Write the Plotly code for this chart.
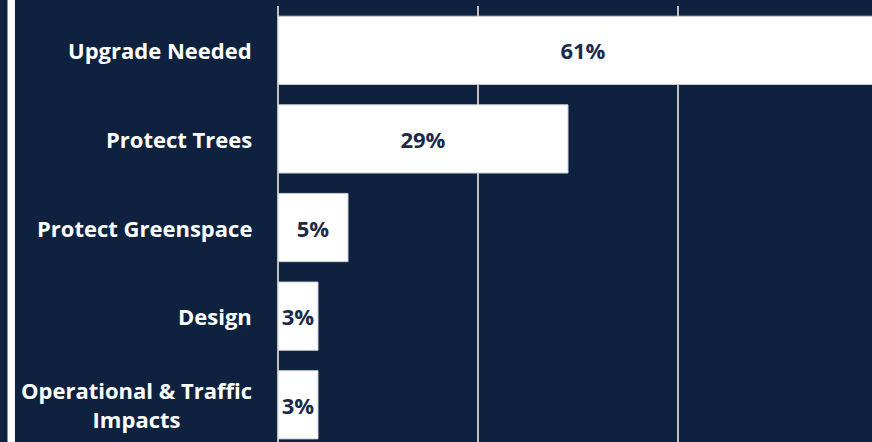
import plotly.graph_objects as go

categories = ["Upgrade Needed", "Protect Trees", "Protect Greenspace", "Design",
              "Operational & Traffic<br>Impacts"]
bar_lengths = [61, 29, 7, 4, 4]
value_labels = ["61%", "29%", "5%", "3%", "3%"]
grid_ticks = [0, 20, 40]

BG = "#0E2240"
TEXT_DARK = "#1B2A4A"
FONT = "Open Sans"

fig = go.Figure()
fig.add_trace(go.Bar(
    y=categories,
    x=bar_lengths,
    orientation="h",
    marker=dict(color="#FFFFFF", line=dict(color="#C8CCD4", width=1)),
    width=0.77,
    text=value_labels,
    textposition="inside",
    insidetextanchor="middle",
    constraintext="none",
    textfont=dict(family=FONT, size=22, color=TEXT_DARK, weight="bold"),
    cliponaxis=True,
    hoverinfo="skip",
))

for cat in categories:
    fig.add_annotation(
        x=0, xref="x", y=cat, yref="y",
        text=cat, showarrow=False,
        xanchor="right", yanchor="middle", align="center",
        xshift=-24,
        font=dict(family=FONT, size=22, color="#FFFFFF", weight="bold"),
    )

# white vertical border line on the left edge
fig.add_shape(type="rect", xref="paper", yref="paper",
              x0=-0.4554, x1=-0.4428, y0=-0.05, y1=1.02,
              fillcolor="#FFFFFF", line=dict(width=0), layer="above")

fig.update_layout(
    width=872, height=442,
    margin=dict(l=278, r=0, t=6, b=0),
    paper_bgcolor=BG, plot_bgcolor=BG,
    showlegend=False,
    bargap=0.23,
    xaxis=dict(range=[0, 59.4], tickvals=grid_ticks, showticklabels=False,
               showgrid=True, gridcolor="#BFBFBF", gridwidth=1.5,
               zeroline=True, zerolinecolor="#BFBFBF", zerolinewidth=1.5,
               showline=False, fixedrange=True),
    yaxis=dict(range=[4.42, -0.5], showticklabels=False, showgrid=False,
               zeroline=False, showline=False, fixedrange=True,
               categoryorder="array", categoryarray=categories),
)

fig.write_html("out.html", config={"displayModeBar": False},
               post_script="document.body.style.margin='0';"
                           "document.body.style.overflow='hidden';"
                           "document.body.style.background='" + BG + "';")
